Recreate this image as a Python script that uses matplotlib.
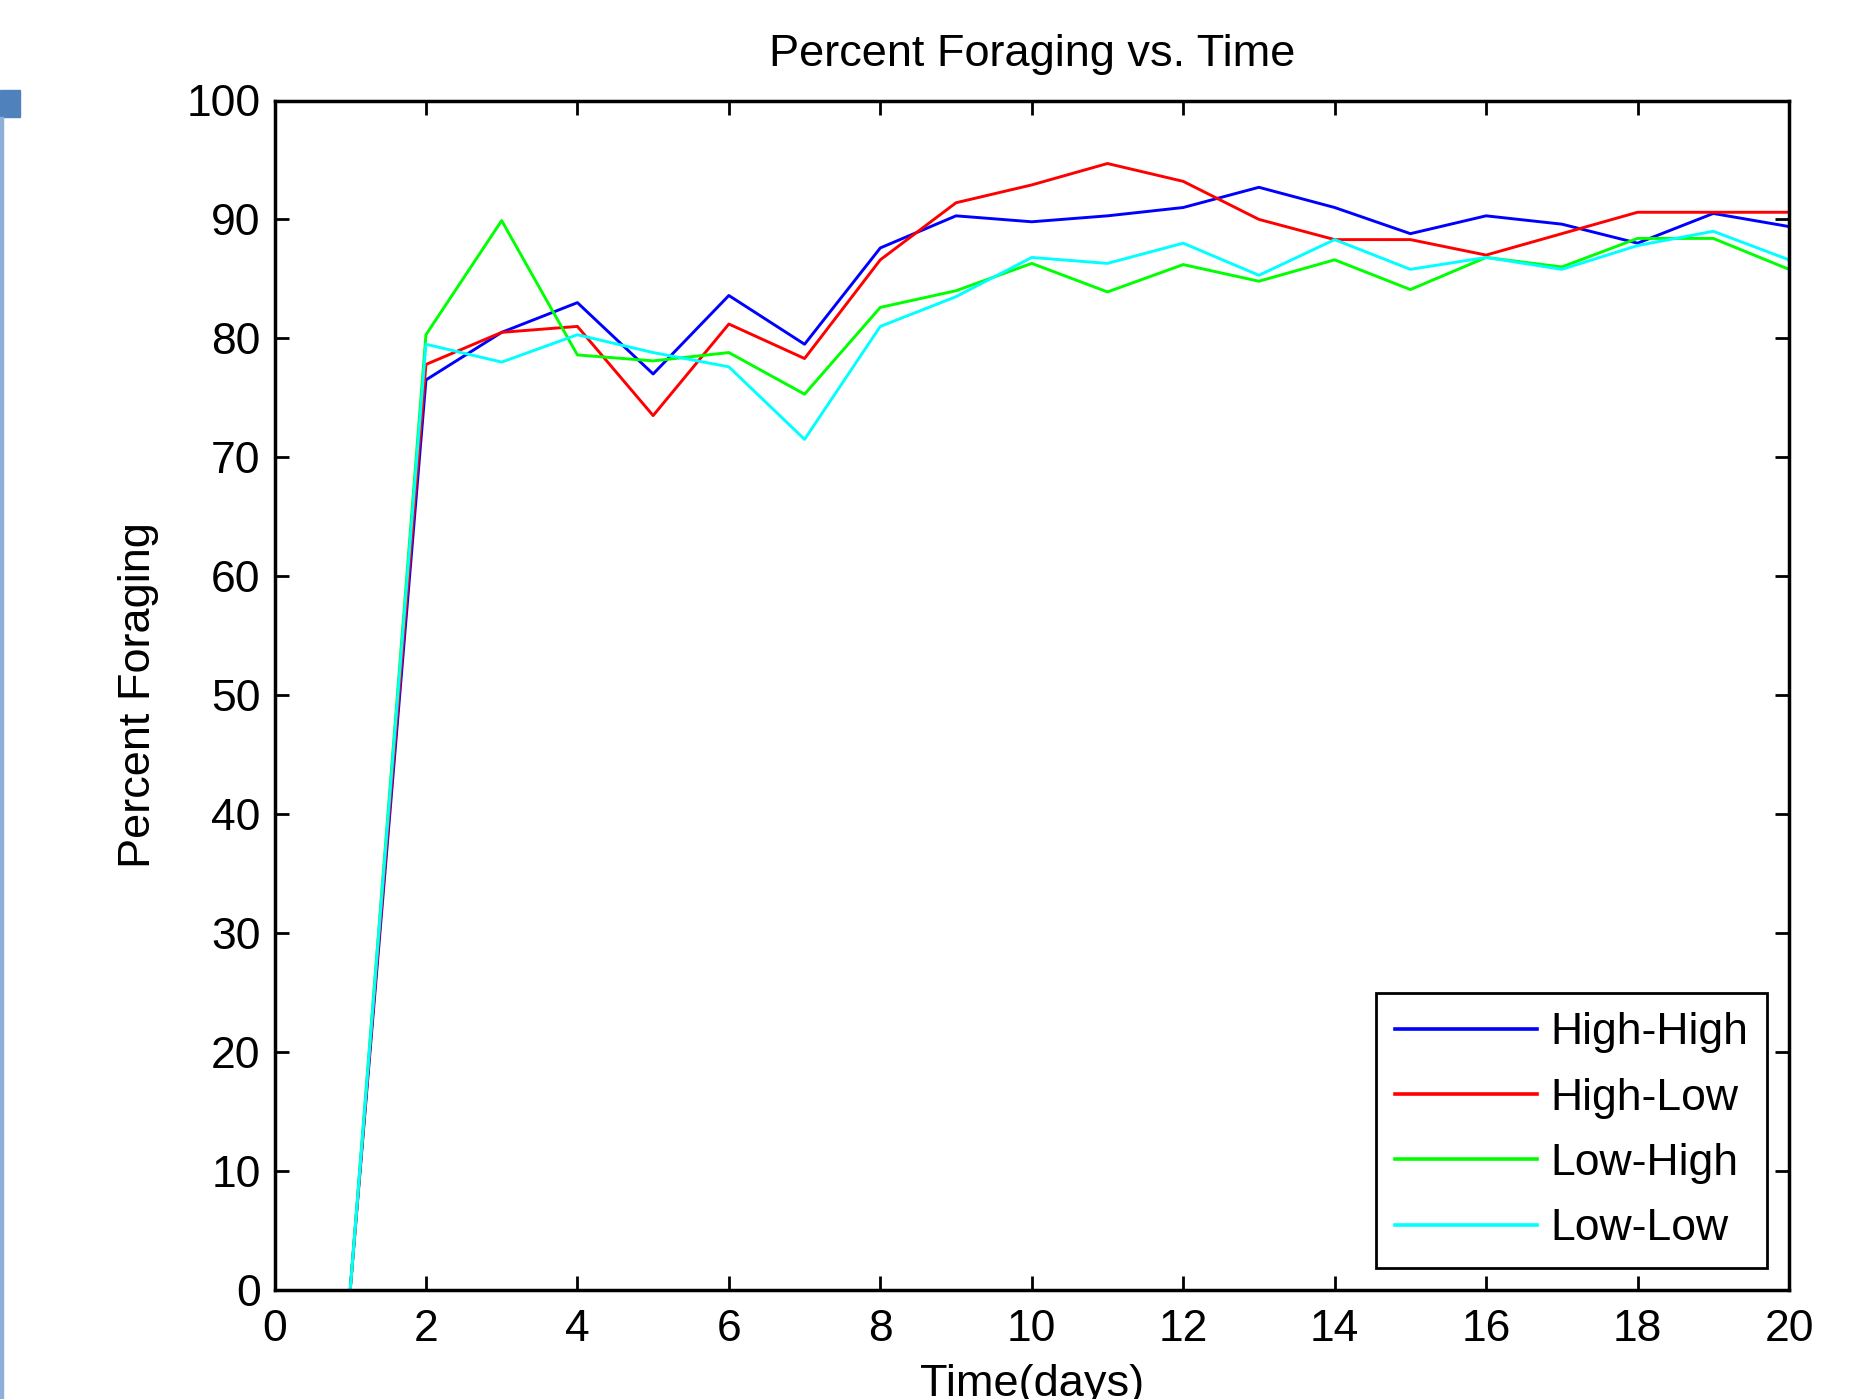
import matplotlib
matplotlib.use("Agg")
import matplotlib.pyplot as plt
from matplotlib.patches import Rectangle

# daily samples, day 1 .. day 20
days = list(range(1, 21))
high_high = [0, 76.5, 80.5, 83.0, 77.0, 83.6, 79.5, 87.6, 90.3, 89.8,
             90.3, 91.0, 92.7, 91.0, 88.8, 90.3, 89.6, 88.0, 90.5, 89.4]
high_low = [0, 77.8, 80.5, 81.0, 73.5, 81.2, 78.3, 86.6, 91.4, 92.9,
            94.7, 93.2, 90.0, 88.3, 88.3, 87.0, 88.8, 90.6, 90.6, 90.6]
low_high = [0, 80.3, 89.9, 78.6, 78.1, 78.8, 75.3, 82.6, 84.0, 86.3,
            83.9, 86.2, 84.8, 86.6, 84.1, 86.8, 86.0, 88.4, 88.4, 85.8]
low_low = [0, 79.5, 78.0, 80.3, 78.8, 77.6, 71.5, 81.0, 83.5, 86.8,
           86.3, 88.0, 85.3, 88.3, 85.8, 86.8, 85.8, 87.8, 89.0, 86.6]

series = [("High-High", high_high, "#0000ff"),
          ("High-Low", high_low, "#ff0000"),
          ("Low-High", low_high, "#00ff00"),
          ("Low-Low", low_low, "#00ffff")]

plt.rcParams["font.family"] = ["Liberation Sans Narrow", "Liberation Sans", "DejaVu Sans"]
plt.rcParams["font.size"] = 32

W, H = 1855, 1399
fig = plt.figure(figsize=(W / 100, H / 100), dpi=100)
ax = fig.add_axes([274.5 / W, 1 - 1289.5 / H, (1789 - 274.5) / W, (1289.5 - 100.5) / H])

for name, vals, col in series:
    ax.plot(days, vals, color=col, lw=2.1, label=name)

ax.set_xlim(0, 20)
ax.set_ylim(0, 100)
ax.set_xticks(range(0, 21, 2))
ax.set_yticks(range(0, 101, 10))
ax.tick_params(direction="in", length=10, width=2, top=True, right=True, labelsize=32)
ax.tick_params(axis="x", pad=14)
ax.tick_params(axis="y", pad=10)
for s in ax.spines.values():
    s.set_linewidth(2.5)

ax.set_title("Percent Foraging vs. Time", pad=25, fontsize=32.5)
ax.set_xlabel("Time(days)", labelpad=10, fontsize=32.5)
ax.set_ylabel("Percent Foraging", labelpad=20, fontsize=32.5)

leg = ax.legend(loc="lower right", bbox_to_anchor=(0.9855, 0.018), borderaxespad=0,
                fancybox=False, framealpha=1, edgecolor="black", fontsize=32,
                handlelength=3.2, handletextpad=0.3, labelspacing=0.55, borderpad=0.42)
leg.get_frame().set_linewidth(2)
for l in leg.get_lines():
    l.set_linewidth(2.6)

# slide decoration on the left edge
fig.patches.append(Rectangle((0, 1 - 117 / H), 20 / W, 27 / H, transform=fig.transFigure,
                             color="#4f81bd", zorder=0))
fig.patches.append(Rectangle((0, 0), 3 / W, 1 - 117 / H, transform=fig.transFigure,
                             color="#8eb0d8", zorder=0))

fig.savefig("out.png", dpi=100)
